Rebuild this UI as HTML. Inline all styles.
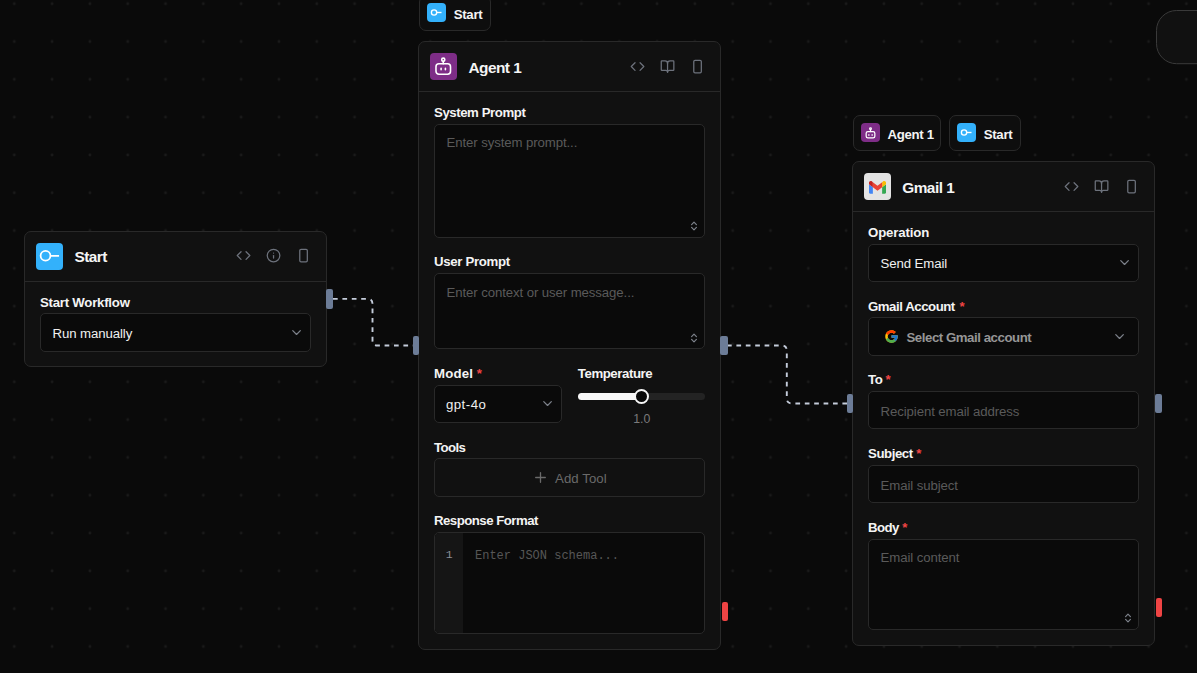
<!DOCTYPE html>
<html><head><meta charset="utf-8">
<style>
*{box-sizing:border-box;margin:0;padding:0}
html,body{width:1197px;height:673px;overflow:hidden;background:#0a0a0a;font-family:"Liberation Sans",sans-serif;position:relative}
</style></head><body>
<svg style="position:absolute;left:0;top:0" width="1197" height="673">
<defs><pattern id="dots" patternUnits="userSpaceOnUse" width="37.81" height="37.81" x="-4.6" y="-15.15">
<circle cx="18.9" cy="18.9" r="1.4" fill="#1a1a1a"/></pattern></defs>
<rect width="1197" height="673" fill="url(#dots)"/>
<g fill="none" stroke="#c4ccda" stroke-width="1.9" stroke-dasharray="4.7 4.7">
<path d="M333 298.9 L367.5 298.9 Q372.5 298.9 372.5 303.9 L372.5 340.5 Q372.5 345.5 377.5 345.5 L413 345.5"/>
<path d="M727 345.5 L781.8 345.5 Q786.8 345.5 786.8 350.5 L786.8 398.5 Q786.8 403.5 791.8 403.5 L847 403.5"/>
</g>
<rect x="1156.5" y="10.5" width="80" height="53.2" rx="20" fill="#111111" stroke="#3a3a3a" stroke-width="1"/>
</svg>
<div style="position:absolute;left:24px;top:231px;width:303px;height:136px;background:#111111;border:1px solid #292929;border-radius:7px"><div style="position:absolute;left:0;top:0;width:301px;height:50px;border-bottom:1px solid #292929"></div><div style="position:absolute;left:11.4px;top:11.2px;width:26.5px;height:26.5px;border-radius:4px;background:#33b1fb;overflow:hidden"><svg width="26.5" height="26.5" viewBox="0.5 0.5 27 27" fill="none" stroke="#fff" stroke-width="1.8" style="position:absolute;left:0;top:0"><circle cx="10.2" cy="13.5" r="5"/><path d="M15.2 13.5H24"/></svg></div><div style="position:absolute;left:49.40px;top:16.96px;font:700 15.4px/15.4px 'Liberation Sans',sans-serif;color:#f5f5f5;letter-spacing:-0.5px;white-space:nowrap;">Start</div><div style="position:absolute;left:210.65px;top:16.45px;width:15.1px;height:15.1px"><svg width="15.1" height="15.1" viewBox="0 0 24 24" fill="none" stroke="#6d727c" stroke-width="2" stroke-linecap="round" stroke-linejoin="round" style="position:absolute;left:0;top:0"><polyline points="16 18 22 12 16 6"/><polyline points="8 6 2 12 8 18"/></svg></div><div style="position:absolute;left:240.75px;top:16.45px;width:15.1px;height:15.1px"><svg width="15.1" height="15.1" viewBox="0 0 24 24" fill="none" stroke="#6d727c" stroke-width="2" stroke-linecap="round" stroke-linejoin="round" style="position:absolute;left:0;top:0"><circle cx="12" cy="12" r="10"/><path d="M12 16v-4"/><path d="M12 8h.01"/></svg></div><div style="position:absolute;left:270.75px;top:16.45px;width:15.1px;height:15.1px"><svg width="15.1" height="15.1" viewBox="0 0 24 24" fill="none" stroke="#6d727c" stroke-width="2" stroke-linecap="round" stroke-linejoin="round" style="position:absolute;left:0;top:0"><rect width="12" height="20" x="6" y="2" rx="2"/></svg></div><div style="position:absolute;left:15.00px;top:63.80px;font:700 13.23px/13.23px 'Liberation Sans',sans-serif;color:#f4f4f4;letter-spacing:-0.24px;white-space:nowrap;">Start Workflow</div><div style="position:absolute;left:15px;top:81px;width:271px;height:39px;background:#0a0a0a;border:1px solid #292929;border-radius:5px;"><div style="position:absolute;left:11.60px;top:12.80px;font:400 13.23px/13.23px 'Liberation Sans',sans-serif;color:#f0f0f0;letter-spacing:-0.1px;white-space:nowrap;">Run manually</div><svg style="position:absolute;left:247.55px;top:10.55px" width="15.1" height="15.1" viewBox="0 0 24 24" fill="none" stroke="#7c818a" stroke-width="2" stroke-linecap="round" stroke-linejoin="round"><path d="m6 9 6 6 6-6"/></svg></div></div><div style="position:absolute;left:418px;top:41px;width:303px;height:609px;background:#111111;border:1px solid #292929;border-radius:7px"><div style="position:absolute;left:0;top:0;width:301px;height:50px;border-bottom:1px solid #292929"></div><div style="position:absolute;left:11.4px;top:11.2px;width:26.5px;height:26.5px;border-radius:4px;background:#7e2d87;overflow:hidden"><svg width="26.5" height="26.5" viewBox="0.5 0.5 27 27" fill="none" stroke="#fff" stroke-width="1.6" stroke-linecap="round" stroke-linejoin="round" style="position:absolute;left:0;top:0"><rect x="6.6" y="11.5" width="14.8" height="10.6" rx="3"/><circle cx="14" cy="7.3" r="1.6"/><path d="M14 8.9V11.5"/><path d="M11.8 16.2v1.4"/><path d="M16.2 16.2v1.4"/></svg></div><div style="position:absolute;left:49.40px;top:17.56px;font:700 15.4px/15.4px 'Liberation Sans',sans-serif;color:#f5f5f5;letter-spacing:-0.5px;white-space:nowrap;">Agent 1</div><div style="position:absolute;left:210.65px;top:17.00px;width:15.1px;height:15.1px"><svg width="15.1" height="15.1" viewBox="0 0 24 24" fill="none" stroke="#6d727c" stroke-width="2" stroke-linecap="round" stroke-linejoin="round" style="position:absolute;left:0;top:0"><polyline points="16 18 22 12 16 6"/><polyline points="8 6 2 12 8 18"/></svg></div><div style="position:absolute;left:240.75px;top:17.00px;width:15.1px;height:15.1px"><svg width="15.1" height="15.1" viewBox="0 0 24 24" fill="none" stroke="#6d727c" stroke-width="2" stroke-linecap="round" stroke-linejoin="round" style="position:absolute;left:0;top:0"><path d="M12 7v14"/><path d="M3 18a1 1 0 0 1-1-1V4a1 1 0 0 1 1-1h5a4 4 0 0 1 4 4 4 4 0 0 1 4-4h5a1 1 0 0 1 1 1v13a1 1 0 0 1-1 1h-6a3 3 0 0 0-3 3 3 3 0 0 0-3-3z"/></svg></div><div style="position:absolute;left:270.75px;top:17.00px;width:15.1px;height:15.1px"><svg width="15.1" height="15.1" viewBox="0 0 24 24" fill="none" stroke="#6d727c" stroke-width="2" stroke-linecap="round" stroke-linejoin="round" style="position:absolute;left:0;top:0"><rect width="12" height="20" x="6" y="2" rx="2"/></svg></div><div style="position:absolute;left:15.00px;top:63.80px;font:700 13.23px/13.23px 'Liberation Sans',sans-serif;color:#f4f4f4;letter-spacing:-0.43px;white-space:nowrap;">System Prompt</div><div style="position:absolute;left:15px;top:82px;width:271px;height:114px;background:#0a0a0a;border:1px solid #292929;border-radius:5px;"><div style="position:absolute;left:11.50px;top:11.10px;font:400 13.23px/13.23px 'Liberation Sans',sans-serif;color:#5a5a5a;letter-spacing:-0.1px;white-space:nowrap;">Enter system prompt...</div><svg style="position:absolute;left:253.50px;top:95.00px" width="10" height="12" viewBox="0 0 10 12" fill="none" stroke="#7d828b" stroke-width="1.2" stroke-linecap="round" stroke-linejoin="round"><path d="M2.6 4.6 5 2.2 7.4 4.6"/><path d="M2.6 7.4 5 9.8 7.4 7.4"/></svg></div><div style="position:absolute;left:15.00px;top:212.80px;font:700 13.23px/13.23px 'Liberation Sans',sans-serif;color:#f4f4f4;letter-spacing:-0.33px;white-space:nowrap;">User Prompt</div><div style="position:absolute;left:15px;top:231px;width:271px;height:76px;background:#0a0a0a;border:1px solid #292929;border-radius:5px;"><div style="position:absolute;left:11.50px;top:11.80px;font:400 13.23px/13.23px 'Liberation Sans',sans-serif;color:#5a5a5a;letter-spacing:-0.1px;white-space:nowrap;">Enter context or user message...</div><svg style="position:absolute;left:254.30px;top:57.50px" width="10" height="12" viewBox="0 0 10 12" fill="none" stroke="#7d828b" stroke-width="1.2" stroke-linecap="round" stroke-linejoin="round"><path d="M2.6 4.6 5 2.2 7.4 4.6"/><path d="M2.6 7.4 5 9.8 7.4 7.4"/></svg></div><div style="position:absolute;left:15.00px;top:324.80px;font:700 13.23px/13.23px 'Liberation Sans',sans-serif;color:#f4f4f4;letter-spacing:0.19px;white-space:nowrap;">Model</div><div style="position:absolute;left:57.80px;top:324.80px;font:700 13.23px/13.23px 'Liberation Sans',sans-serif;color:#ef4444;letter-spacing:0px;white-space:nowrap;">*</div><div style="position:absolute;left:15px;top:343px;width:128px;height:38px;background:#0a0a0a;border:1px solid #292929;border-radius:5px;"><div style="position:absolute;left:10.90px;top:12.00px;font:400 13.23px/13.23px 'Liberation Sans',sans-serif;color:#f0f0f0;letter-spacing:0.5px;white-space:nowrap;">gpt-4o</div><svg style="position:absolute;left:104.55px;top:9.65px" width="15.1" height="15.1" viewBox="0 0 24 24" fill="none" stroke="#7c818a" stroke-width="2" stroke-linecap="round" stroke-linejoin="round"><path d="m6 9 6 6 6-6"/></svg></div><div style="position:absolute;left:158.80px;top:324.80px;font:700 13.23px/13.23px 'Liberation Sans',sans-serif;color:#f4f4f4;letter-spacing:-0.43px;white-space:nowrap;">Temperature</div><div style="position:absolute;left:158.5px;top:350.6px;width:127.5px;height:7.4px;border-radius:4px;background:#232323"></div><div style="position:absolute;left:158.5px;top:350.6px;width:66px;height:7.4px;border-radius:4px;background:#f7f7f7"></div><div style="position:absolute;left:215.3px;top:346.6px;width:15px;height:15px;border-radius:50%;background:#0a0a0a;border:2px solid #f7f7f7"></div><div style="position:absolute;left:202.8px;top:0;width:40px;height:0;"><div style="position:absolute;left:0.00px;top:370.69px;font:400 12.3px/12.3px 'Liberation Sans',sans-serif;color:#7a7a7a;letter-spacing:0px;white-space:nowrap;width:40px;text-align:center">1.0</div></div><div style="position:absolute;left:15.00px;top:398.60px;font:700 13.23px/13.23px 'Liberation Sans',sans-serif;color:#f4f4f4;letter-spacing:-0.6px;white-space:nowrap;">Tools</div><div style="position:absolute;left:15px;top:416px;width:271px;height:39px;background:#111111;border:1px solid #292929;border-radius:5px;"><svg style="position:absolute;left:99.5px;top:13px" width="11" height="11" viewBox="0 0 11 11" fill="none" stroke="#6a6a6a" stroke-width="1.3" stroke-linecap="round"><path d="M0.7 5.5h9.6"/><path d="M5.5 0.7v9.6"/></svg><div style="position:absolute;left:120.10px;top:12.50px;font:400 13.23px/13.23px 'Liberation Sans',sans-serif;color:#6a6a6a;letter-spacing:0.05px;white-space:nowrap;">Add Tool</div></div><div style="position:absolute;left:15.00px;top:471.80px;font:700 13.23px/13.23px 'Liberation Sans',sans-serif;color:#f4f4f4;letter-spacing:-0.52px;white-space:nowrap;">Response Format</div><div style="position:absolute;left:15px;top:490px;width:271px;height:102px;background:#0a0a0a;border:1px solid #292929;border-radius:5px;overflow:hidden"><div style="position:absolute;left:0;top:0;width:28px;height:100px;background:#151515;border-radius:4px 0 0 4px"></div><div style="position:absolute;left:10.80px;top:16.27px;font:400 11.5px/11.5px 'Liberation Mono',monospace;color:#8c9096;letter-spacing:0px;white-space:nowrap;">1</div><div style="position:absolute;left:40.00px;top:16.74px;font:400 12.0px/12.0px 'Liberation Mono',monospace;color:#575757;letter-spacing:0px;white-space:nowrap;">Enter JSON schema...</div></div></div><div style="position:absolute;left:852px;top:161px;width:303px;height:485px;background:#111111;border:1px solid #292929;border-radius:7px"><div style="position:absolute;left:0;top:0;width:301px;height:50px;border-bottom:1px solid #292929"></div><div style="position:absolute;left:11.4px;top:11.2px;width:26.5px;height:26.5px;border-radius:4px;background:#e4e4e4;overflow:hidden"><svg width="17" height="12.75" viewBox="0 0 24 18" style="position:absolute;left:4.5px;top:7.9px"><path fill="#4285f4" d="M1.636 18h3.819V8.727L0 4.636v11.727C0 17.268.732 18 1.636 18"/><path fill="#34a853" d="M18.545 18h3.819C23.268 18 24 17.268 24 16.364V4.636l-5.455 4.091"/><path fill="#fbbc04" d="M18.545 1.636v7.091L24 4.636V2.455c0-2.023-2.309-3.178-3.927-1.964"/><path fill="#ea4335" d="M5.455 8.727V1.636L12 6.545l6.545-4.909v7.091L12 13.636"/><path fill="#c5221f" d="M0 2.455v2.181l5.455 4.091V1.636L3.927.491C2.309-.723 0 .432 0 2.455"/></svg></div><div style="position:absolute;left:49.20px;top:17.56px;font:700 15.4px/15.4px 'Liberation Sans',sans-serif;color:#f5f5f5;letter-spacing:-0.5px;white-space:nowrap;">Gmail 1</div><div style="position:absolute;left:210.65px;top:17.00px;width:15.1px;height:15.1px"><svg width="15.1" height="15.1" viewBox="0 0 24 24" fill="none" stroke="#6d727c" stroke-width="2" stroke-linecap="round" stroke-linejoin="round" style="position:absolute;left:0;top:0"><polyline points="16 18 22 12 16 6"/><polyline points="8 6 2 12 8 18"/></svg></div><div style="position:absolute;left:240.75px;top:17.00px;width:15.1px;height:15.1px"><svg width="15.1" height="15.1" viewBox="0 0 24 24" fill="none" stroke="#6d727c" stroke-width="2" stroke-linecap="round" stroke-linejoin="round" style="position:absolute;left:0;top:0"><path d="M12 7v14"/><path d="M3 18a1 1 0 0 1-1-1V4a1 1 0 0 1 1-1h5a4 4 0 0 1 4 4 4 4 0 0 1 4-4h5a1 1 0 0 1 1 1v13a1 1 0 0 1-1 1h-6a3 3 0 0 0-3 3 3 3 0 0 0-3-3z"/></svg></div><div style="position:absolute;left:270.75px;top:17.00px;width:15.1px;height:15.1px"><svg width="15.1" height="15.1" viewBox="0 0 24 24" fill="none" stroke="#6d727c" stroke-width="2" stroke-linecap="round" stroke-linejoin="round" style="position:absolute;left:0;top:0"><rect width="12" height="20" x="6" y="2" rx="2"/></svg></div><div style="position:absolute;left:15.00px;top:63.80px;font:700 13.23px/13.23px 'Liberation Sans',sans-serif;color:#f4f4f4;letter-spacing:-0.15px;white-space:nowrap;">Operation</div><div style="position:absolute;left:15px;top:82px;width:271px;height:38px;background:#0a0a0a;border:1px solid #292929;border-radius:5px;"><div style="position:absolute;left:11.50px;top:12.10px;font:400 13.23px/13.23px 'Liberation Sans',sans-serif;color:#f0f0f0;letter-spacing:-0.1px;white-space:nowrap;">Send Email</div><svg style="position:absolute;left:247.55px;top:10.45px" width="15.1" height="15.1" viewBox="0 0 24 24" fill="none" stroke="#7c818a" stroke-width="2" stroke-linecap="round" stroke-linejoin="round"><path d="m6 9 6 6 6-6"/></svg></div><div style="position:absolute;left:15.00px;top:137.60px;font:700 13.23px/13.23px 'Liberation Sans',sans-serif;color:#f4f4f4;letter-spacing:-0.46px;white-space:nowrap;">Gmail Account</div><div style="position:absolute;left:106.60px;top:137.60px;font:700 13.23px/13.23px 'Liberation Sans',sans-serif;color:#ef4444;letter-spacing:0px;white-space:nowrap;">*</div><div style="position:absolute;left:15px;top:155px;width:271px;height:39px;background:#0a0a0a;border:1px solid #292929;border-radius:5px;"><div style="position:absolute;left:14.7px;top:10.8px;width:15px;height:15px"><svg width="15" height="15" viewBox="0 0 48 48" style="position:absolute;left:0;top:0"><path fill="#FFC107" d="M43.6 20.1H42V20H24v8h11.3C33.7 32.7 29.2 36 24 36c-6.6 0-12-5.4-12-12s5.4-12 12-12c3.1 0 5.8 1.2 7.9 3.1l5.7-5.7C34 6.1 29.3 4 24 4 13 4 4 13 4 24s9 20 20 20 20-9 20-20c0-1.3-.1-2.6-.4-3.9z"/><path fill="#FF3D00" d="M6.3 14.7l6.6 4.8C14.7 15.1 19 12 24 12c3.1 0 5.8 1.2 7.9 3.1l5.7-5.7C34 6.1 29.3 4 24 4 16.3 4 9.7 8.3 6.3 14.7z"/><path fill="#4CAF50" d="M24 44c5.2 0 9.9-2 13.4-5.2l-6.2-5.2C29.2 35.1 26.7 36 24 36c-5.2 0-9.6-3.3-11.3-8l-6.5 5C9.5 39.6 16.2 44 24 44z"/><path fill="#1976D2" d="M43.6 20.1H42V20H24v8h11.3c-.8 2.2-2.2 4.2-4.1 5.6l6.2 5.2C37 39.2 44 34 44 24c0-1.3-.1-2.6-.4-3.9z"/></svg></div><div style="position:absolute;left:37.50px;top:13.30px;font:700 13.23px/13.23px 'Liberation Sans',sans-serif;color:#969696;letter-spacing:-0.45px;white-space:nowrap;">Select Gmail account</div><svg style="position:absolute;left:242.95px;top:10.95px" width="15.1" height="15.1" viewBox="0 0 24 24" fill="none" stroke="#7c818a" stroke-width="2" stroke-linecap="round" stroke-linejoin="round"><path d="m6 9 6 6 6-6"/></svg></div><div style="position:absolute;left:15.00px;top:210.80px;font:700 13.23px/13.23px 'Liberation Sans',sans-serif;color:#f4f4f4;letter-spacing:-0.23px;white-space:nowrap;">To</div><div style="position:absolute;left:32.50px;top:210.80px;font:700 13.23px/13.23px 'Liberation Sans',sans-serif;color:#ef4444;letter-spacing:0px;white-space:nowrap;">*</div><div style="position:absolute;left:15px;top:229px;width:271px;height:38px;background:#0a0a0a;border:1px solid #292929;border-radius:5px;"><div style="position:absolute;left:11.50px;top:12.80px;font:400 13.23px/13.23px 'Liberation Sans',sans-serif;color:#5a5a5a;letter-spacing:-0.1px;white-space:nowrap;">Recipient email address</div></div><div style="position:absolute;left:15.00px;top:284.80px;font:700 13.23px/13.23px 'Liberation Sans',sans-serif;color:#f4f4f4;letter-spacing:-0.43px;white-space:nowrap;">Subject</div><div style="position:absolute;left:63.20px;top:284.80px;font:700 13.23px/13.23px 'Liberation Sans',sans-serif;color:#ef4444;letter-spacing:0px;white-space:nowrap;">*</div><div style="position:absolute;left:15px;top:303px;width:271px;height:38px;background:#0a0a0a;border:1px solid #292929;border-radius:5px;"><div style="position:absolute;left:11.50px;top:12.80px;font:400 13.23px/13.23px 'Liberation Sans',sans-serif;color:#5a5a5a;letter-spacing:-0.1px;white-space:nowrap;">Email subject</div></div><div style="position:absolute;left:15.00px;top:358.80px;font:700 13.23px/13.23px 'Liberation Sans',sans-serif;color:#f4f4f4;letter-spacing:-0.58px;white-space:nowrap;">Body</div><div style="position:absolute;left:49.30px;top:358.80px;font:700 13.23px/13.23px 'Liberation Sans',sans-serif;color:#ef4444;letter-spacing:0px;white-space:nowrap;">*</div><div style="position:absolute;left:15px;top:377px;width:271px;height:91px;background:#0a0a0a;border:1px solid #292929;border-radius:5px;"><div style="position:absolute;left:11.50px;top:10.80px;font:400 13.23px/13.23px 'Liberation Sans',sans-serif;color:#5a5a5a;letter-spacing:-0.1px;white-space:nowrap;">Email content</div><svg style="position:absolute;left:253.80px;top:72.40px" width="10" height="12" viewBox="0 0 10 12" fill="none" stroke="#7d828b" stroke-width="1.2" stroke-linecap="round" stroke-linejoin="round"><path d="M2.6 4.6 5 2.2 7.4 4.6"/><path d="M2.6 7.4 5 9.8 7.4 7.4"/></svg></div></div><div style="position:absolute;left:419px;top:-5px;width:72px;height:36px;background:#0e0e0e;border:1px solid #292929;border-radius:7px"><div style="position:absolute;left:7.2px;top:7.3px;width:19px;height:19px;border-radius:4px;background:#33b1fb"><svg width="19" height="19" viewBox="0 0 28 28" fill="none" stroke="#fff" stroke-width="2.0" style="position:absolute;left:0;top:0"><circle cx="10.4" cy="14" r="3.9"/><path d="M14.3 14H21.4"/></svg></div><div style="position:absolute;left:33.80px;top:12.10px;font:700 13.23px/13.23px 'Liberation Sans',sans-serif;color:#f4f4f4;letter-spacing:-0.33px;white-space:nowrap;">Start</div></div><div style="position:absolute;left:853px;top:115px;width:88px;height:36px;background:#0e0e0e;border:1px solid #292929;border-radius:7px"><div style="position:absolute;left:7.2px;top:7.3px;width:19px;height:19px;border-radius:4px;background:#7e2d87"><svg width="19" height="19" viewBox="0 0 28 28" fill="none" stroke="#fff" stroke-width="1.8" stroke-linecap="round" stroke-linejoin="round" style="position:absolute;left:0;top:0"><rect x="7.6" y="12.6" width="12.8" height="9.4" rx="2.6"/><circle cx="14" cy="8.6" r="1.3"/><path d="M14 10V12.6"/><path d="M11.6 17v1.2"/><path d="M16.4 17v1.2"/></svg></div><div style="position:absolute;left:33.60px;top:11.90px;font:700 13.23px/13.23px 'Liberation Sans',sans-serif;color:#f4f4f4;letter-spacing:-0.33px;white-space:nowrap;">Agent 1</div></div><div style="position:absolute;left:949px;top:115px;width:72px;height:36px;background:#0e0e0e;border:1px solid #292929;border-radius:7px"><div style="position:absolute;left:7.2px;top:7.3px;width:19px;height:19px;border-radius:4px;background:#33b1fb"><svg width="19" height="19" viewBox="0 0 28 28" fill="none" stroke="#fff" stroke-width="2.0" style="position:absolute;left:0;top:0"><circle cx="10.4" cy="14" r="3.9"/><path d="M14.3 14H21.4"/></svg></div><div style="position:absolute;left:33.80px;top:11.90px;font:700 13.23px/13.23px 'Liberation Sans',sans-serif;color:#f4f4f4;letter-spacing:-0.33px;white-space:nowrap;">Start</div></div>
<div style="position:absolute;left:326.0px;top:289.4px;width:7.2px;height:19.3px;background:#6c7c97;border-radius:2px"></div><div style="position:absolute;left:412.9px;top:336.0px;width:6.6px;height:19.2px;background:#6c7c97;border-radius:2px"></div><div style="position:absolute;left:720.4px;top:335.8px;width:7.2px;height:19.3px;background:#6c7c97;border-radius:2px"></div><div style="position:absolute;left:846.5px;top:393.8px;width:6.6px;height:19.2px;background:#6c7c97;border-radius:2px"></div><div style="position:absolute;left:1154.5px;top:393.8px;width:7.0px;height:19.2px;background:#6c7c97;border-radius:2px"></div><div style="position:absolute;left:721.6px;top:601.7px;width:6.8px;height:19.3px;background:#ef4444;border-radius:2px"></div><div style="position:absolute;left:1155.5px;top:597.7px;width:6.6px;height:19px;background:#ef4444;border-radius:2px"></div>
</body></html>
